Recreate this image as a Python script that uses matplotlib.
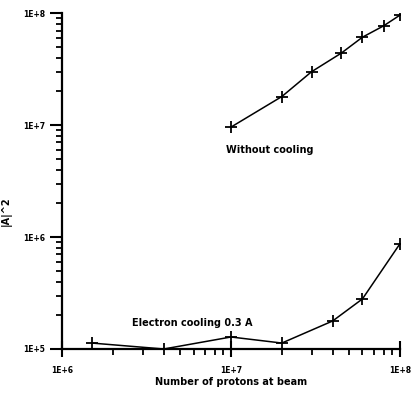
import matplotlib.pyplot as plt
import numpy as np

# data
n_without = [1e7, 2e7, 3e7, 4.5e7, 6e7, 8e7, 1e8]
a2_without = [9.6e6, 1.8e7, 3.0e7, 4.4e7, 6.1e7, 7.7e7, 9.6e7]

n_cool = [1.5e6, 4e6, 1e7, 2e7, 4e7, 6e7, 1e8]
a2_cool = [1.13e5, 1.0e5, 1.28e5, 1.13e5, 1.78e5, 2.8e5, 8.7e5]

fig = plt.figure(figsize=(4.11, 3.96), dpi=100)
ax = fig.add_axes([0.151, 0.1187, 0.822, 0.848])

ax.plot(n_without, a2_without, color='black', lw=1.1, marker='+', ms=8, mew=1.3)
ax.plot(n_cool, a2_cool, color='black', lw=1.1, marker='+', ms=8, mew=1.3)

ax.set_xscale('log')
ax.set_yscale('log')
ax.set_xlim(1e6, 1e8)
ax.set_ylim(1e5, 1e8)

for s in ['top', 'right']:
    ax.spines[s].set_visible(False)
for s in ['left', 'bottom']:
    ax.spines[s].set_linewidth(1.6)

ax.set_xticks([1e6, 1e7, 1e8])
ax.set_xticklabels(['1E+6', '1E+7', '1E+8'])
ax.set_yticks([1e5, 1e6, 1e7, 1e8])
ax.set_yticklabels(['1E+5', '1E+6', '1E+7', '1E+8'])
for lab in ax.get_xticklabels() + ax.get_yticklabels():
    lab.set_fontweight('bold')

ax.tick_params(axis='x', which='major', direction='inout', length=12, width=1.5,
               labelsize=5.5, pad=6)
ax.tick_params(axis='x', which='minor', direction='out', length=4, width=1.3)
ax.tick_params(axis='y', which='major', direction='out', length=9, width=1.5,
               labelsize=5.5, pad=3)
ax.tick_params(axis='y', which='minor', direction='out', length=4, width=1.3)
ax.xaxis.set_minor_formatter(plt.NullFormatter())
ax.yaxis.set_minor_formatter(plt.NullFormatter())

ax.set_xlabel('Number of protons at beam', fontsize=7, fontweight='bold', labelpad=2)
ax.set_ylabel('|A|^2', fontsize=7, fontweight='bold')
ax.yaxis.set_label_coords(-0.15, 0.41)

ax.text(1.7e7, 6e6, 'Without cooling', fontsize=7, fontweight='bold',
        ha='center', va='center')
ax.text(2.6e6, 1.7e5, 'Electron cooling 0.3 A', fontsize=7, fontweight='bold',
        ha='left', va='center')

fig.savefig('out.png', dpi=100)
